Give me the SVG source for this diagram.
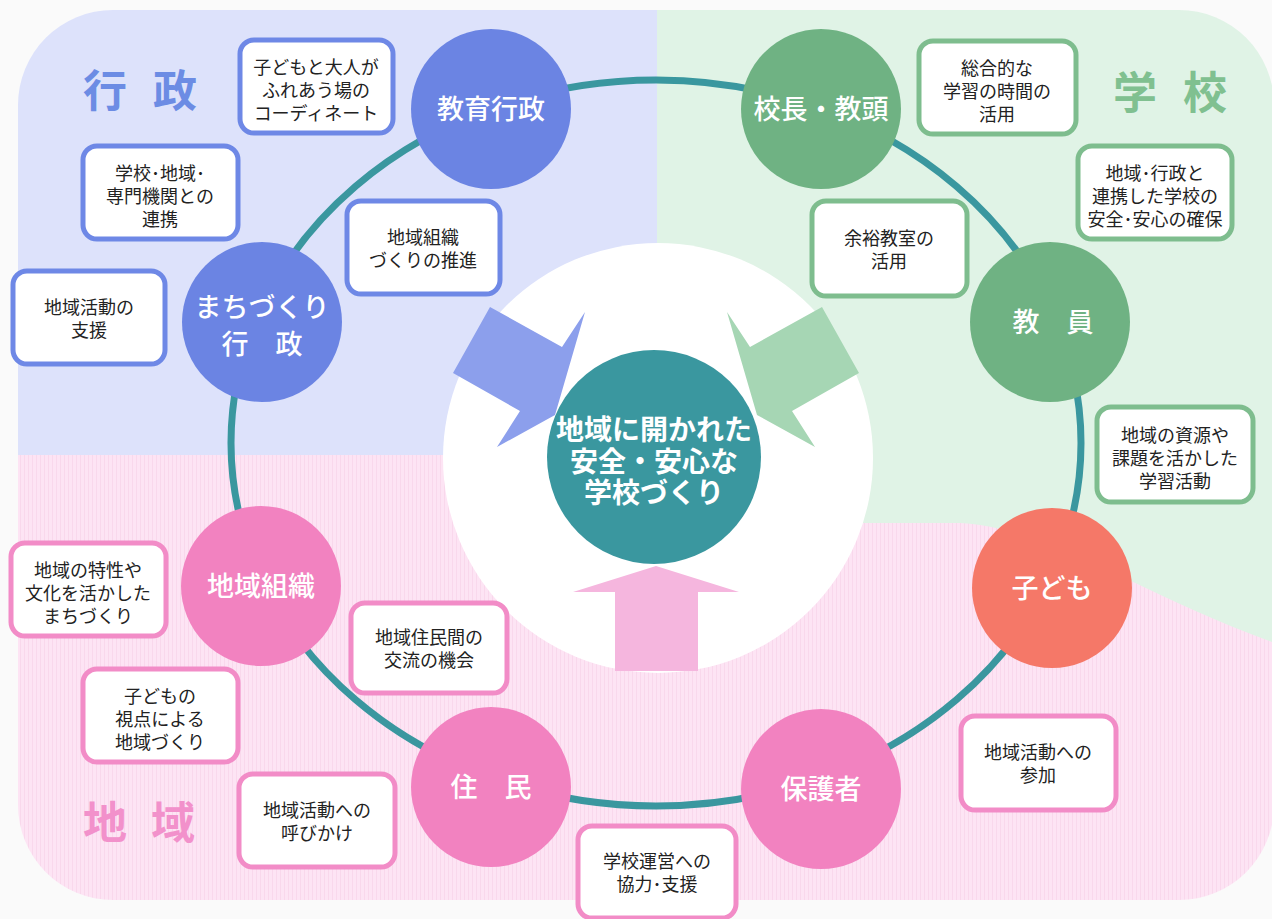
<svg xmlns="http://www.w3.org/2000/svg" width="1272" height="919" viewBox="0 0 1272 919">
<defs>
<clipPath id="outer"><rect x="18" y="10" width="1256" height="890" rx="95" ry="95"/></clipPath>
<pattern id="stripes" width="4" height="8" patternUnits="userSpaceOnUse"><rect width="4" height="8" fill="#fde4f4"/><rect width="1" height="8" fill="#f9d8ec"/></pattern>
<style>
.box{fill:#ffffff;stroke-width:5}
.bb{stroke:#6e88e6}
.gb{stroke:#7ebd8e}
.pb{stroke:#f28cc7}
.t{font-family:"Liberation Sans","Noto Sans CJK JP",sans-serif;font-size:18px;fill:#222;text-anchor:middle}
.n{font-family:"Liberation Sans","Noto Sans CJK JP",sans-serif;font-size:27px;font-weight:500;fill:#ffffff;text-anchor:middle}
.sec{font-family:"Liberation Sans","Noto Sans CJK JP",sans-serif;font-size:44px;font-weight:700}
.ctr{font-family:"Liberation Sans","Noto Sans CJK JP",sans-serif;font-size:28px;font-weight:700;fill:#ffffff;text-anchor:middle}
</style>
</defs>
<rect width="1272" height="919" fill="#fafafa"/>
<g id="background" clip-path="url(#outer)">
<rect x="0" y="0" width="657" height="455" fill="#dde2fb"/>
<rect x="657" y="0" width="620" height="700" fill="#e0f3e6"/>
<path d="M0 455 L657 455 L657 523 L960 523 C1050 528 1140 595 1280 645 L1280 919 L0 919 Z" fill="url(#stripes)"/>
</g>
<circle cx="658" cy="458" r="215" fill="#ffffff"/>
<g id="arrows">
<polygon points="490,307 562,347 585,312 555,415 497,447 520,411 453,373" fill="#8c9fec"/>
<polygon points="822,307 750,347 727,312 757,415 815,447 792,411 859,373" fill="#a6d6b4"/>
<polygon points="615,671 615,592 573,592 656,566 739,592 698,592 698,671" fill="#f5b6de"/>
</g>
<g id="center">
<circle cx="654" cy="457" r="107" fill="#3a979f"/>
<text class="ctr" x="654" y="440">地域に開かれた<tspan x="654" dy="32">安全・安心な</tspan><tspan x="654" dy="31">学校づくり</tspan></text>
</g>
<g id="connectors">
<ellipse cx="656" cy="443" rx="425" ry="363" fill="none" stroke="#3a979f" stroke-width="7"/>
</g>
<g id="node-kyouikugyousei"><circle cx="491" cy="109" r="80" fill="#6b84e3"/><text class="n" x="491" y="119">教育行政</text></g>
<g id="node-kouchou"><circle cx="821" cy="109" r="80" fill="#6fb283"/><text class="n" x="821" y="119">校長・教頭</text></g>
<g id="node-kyouin"><circle cx="1050" cy="322" r="80" fill="#6fb283"/><text class="n" x="1053" y="332">教　員</text></g>
<g id="node-kodomo"><circle cx="1052" cy="588" r="80" fill="#f57868"/><text class="n" x="1052" y="598">子ども</text></g>
<g id="node-hogosha"><circle cx="821" cy="789" r="80" fill="#f282c0"/><text class="n" x="821" y="799">保護者</text></g>
<g id="node-juumin"><circle cx="491" cy="787" r="80" fill="#f282c0"/><text class="n" x="491" y="797">住　民</text></g>
<g id="node-chiikisoshiki"><circle cx="261" cy="586" r="80" fill="#f282c0"/><text class="n" x="261" y="596">地域組織</text></g>
<g id="node-machizukuri"><circle cx="262" cy="322" r="80" fill="#6b84e3"/><text class="n" x="262" y="317">まちづくり<tspan x="262" dy="37">行　政</tspan></text></g>
<g id="box1"><rect class="box bb" x="240" y="40" width="153" height="93" rx="14"/><text class="t" x="316" y="74">子どもと大人が<tspan x="316" dy="23">ふれあう場の</tspan><tspan x="316" dy="23">コーディネート</tspan></text></g>
<g id="box2"><rect class="box bb" x="83" y="146" width="155" height="93" rx="14"/><text class="t" x="160" y="180">学校･地域･<tspan x="160" dy="23">専門機関との</tspan><tspan x="160" dy="23">連携</tspan></text></g>
<g id="box3"><rect class="box bb" x="347" y="201" width="153" height="93" rx="14"/><text class="t" x="423" y="244">地域組織<tspan x="423" dy="23">づくりの推進</tspan></text></g>
<g id="box4"><rect class="box bb" x="13" y="271" width="152" height="93" rx="14"/><text class="t" x="89" y="314">地域活動の<tspan x="89" dy="23">支援</tspan></text></g>
<g id="box5"><rect class="box gb" x="919" y="41" width="157" height="93" rx="14"/><text class="t" x="997" y="75">総合的な<tspan x="997" dy="23">学習の時間の</tspan><tspan x="997" dy="23">活用</tspan></text></g>
<g id="box6"><rect class="box gb" x="1078" y="146" width="154" height="93" rx="14"/><text class="t" x="1155" y="180">地域･行政と<tspan x="1155" dy="23">連携した学校の</tspan><tspan x="1155" dy="23">安全･安心の確保</tspan></text></g>
<g id="box7"><rect class="box gb" x="812" y="201" width="155" height="95" rx="14"/><text class="t" x="889" y="245">余裕教室の<tspan x="889" dy="23">活用</tspan></text></g>
<g id="box8"><rect class="box gb" x="1097" y="407" width="156" height="95" rx="14"/><text class="t" x="1175" y="442">地域の資源や<tspan x="1175" dy="23">課題を活かした</tspan><tspan x="1175" dy="23">学習活動</tspan></text></g>
<g id="box9"><rect class="box pb" x="11" y="543" width="155" height="93" rx="14"/><text class="t" x="88" y="577">地域の特性や<tspan x="88" dy="23">文化を活かした</tspan><tspan x="88" dy="23">まちづくり</tspan></text></g>
<g id="box10"><rect class="box pb" x="83" y="669" width="155" height="93" rx="14"/><text class="t" x="160" y="703">子どもの<tspan x="160" dy="23">視点による</tspan><tspan x="160" dy="23">地域づくり</tspan></text></g>
<g id="box11"><rect class="box pb" x="351" y="603" width="156" height="90" rx="14"/><text class="t" x="429" y="644">地域住民間の<tspan x="429" dy="23">交流の機会</tspan></text></g>
<g id="box12"><rect class="box pb" x="239" y="774" width="156" height="93" rx="14"/><text class="t" x="317" y="817">地域活動への<tspan x="317" dy="23">呼びかけ</tspan></text></g>
<g id="box13"><rect class="box pb" x="961" y="716" width="155" height="94" rx="14"/><text class="t" x="1038" y="759">地域活動への<tspan x="1038" dy="23">参加</tspan></text></g>
<g id="box14"><rect class="box pb" x="578" y="826" width="158" height="92" rx="14"/><text class="t" x="657" y="868">学校運営への<tspan x="657" dy="23">協力･支援</tspan></text></g>
<g id="labels">
<text class="sec" x="83 140 153" y="107" fill="#6c8ce4">行 政</text>
<text class="sec" x="1113 1170 1183" y="109" fill="#80c090">学 校</text>
<text class="sec" x="83 140 151" y="839" fill="#f291cb">地 域</text>
</g>
</svg>
